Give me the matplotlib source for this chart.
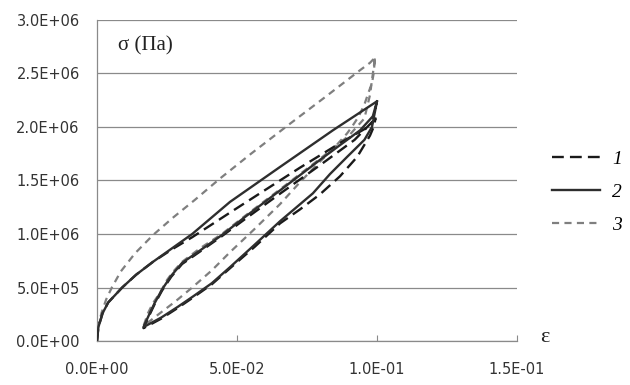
import matplotlib
matplotlib.use("Agg")
import matplotlib.pyplot as plt
from matplotlib.font_manager import FontProperties

# strain / stress readings for each branch of the three loops
# 1 - black long dashes
load1_eps = [0, 0.0005, 0.002, 0.004, 0.009, 0.014, 0.02, 0.027, 0.034, 0.0475, 0.057, 0.0725, 0.0868, 0.0975, 0.0995]
load1_sig = [0, 1.3e5, 2.6e5, 3.6e5, 5.0e5, 6.2e5, 7.4e5, 8.6e5, 9.7e5, 1.2e6, 1.36e6, 1.62e6, 1.85e6, 2.01e6, 2.08e6]
unload1_eps = [0.0995, 0.0988, 0.0975, 0.0929, 0.0868, 0.0796, 0.0725, 0.0654, 0.0563, 0.0475, 0.041, 0.0345, 0.0289, 0.023, 0.0166]
unload1_sig = [2.08e6, 2.0e6, 1.92e6, 1.72e6, 1.54e6, 1.37e6, 1.23e6, 1.1e6, 8.8e5, 6.8e5, 5.3e5, 4.1e5, 3.1e5, 2.1e5, 1.2e5]
reload1_eps = [0.0166, 0.0185, 0.0205, 0.0232, 0.0265, 0.0304, 0.037, 0.0446, 0.0529, 0.065, 0.080, 0.092, 0.0995]
reload1_sig = [1.2e5, 2.3e5, 3.4e5, 4.7e5, 6.0e5, 7.2e5, 8.4e5, 9.8e5, 1.14e6, 1.37e6, 1.65e6, 1.88e6, 2.08e6]

# 2 - solid
load2_eps = [0, 0.0005, 0.002, 0.004, 0.009, 0.014, 0.02, 0.027, 0.034, 0.0475, 0.065, 0.0843, 0.1]
load2_sig = [0, 1.3e5, 2.6e5, 3.6e5, 5.0e5, 6.2e5, 7.4e5, 8.7e5, 1.0e6, 1.3e6, 1.62e6, 1.97e6, 2.24e6]
unload2_eps = [0.1, 0.0982, 0.0955, 0.0893, 0.0832, 0.0771, 0.0654, 0.0563, 0.0475, 0.041, 0.0345, 0.0289, 0.023, 0.0166]
unload2_sig = [2.24e6, 2.0e6, 1.88e6, 1.72e6, 1.56e6, 1.38e6, 1.12e6, 9.0e5, 6.9e5, 5.4e5, 4.2e5, 3.2e5, 2.2e5, 1.3e5]
reload2_eps = [0.0166, 0.0185, 0.0205, 0.0232, 0.0265, 0.0304, 0.037, 0.0446, 0.0529, 0.065, 0.080, 0.094, 0.0985, 0.1]
reload2_sig = [1.3e5, 2.4e5, 3.5e5, 4.8e5, 6.1e5, 7.3e5, 8.5e5, 9.9e5, 1.16e6, 1.4e6, 1.7e6, 1.97e6, 2.1e6, 2.24e6]

# 3 - grey short dashes
load3_eps = [0, 0.0004, 0.0017, 0.0033, 0.0053, 0.0085, 0.0136, 0.02, 0.027, 0.035, 0.044, 0.055, 0.0689, 0.0815, 0.0939, 0.0975, 0.0993]
load3_sig = [0, 1.4e5, 2.7e5, 3.9e5, 5.0e5, 6.5e5, 8.2e5, 9.9e5, 1.15e6, 1.32e6, 1.52e6, 1.75e6, 2.03e6, 2.28e6, 2.53e6, 2.6e6, 2.65e6]
unload3_eps = [0.0993, 0.0988, 0.0982, 0.0968, 0.0955, 0.0935, 0.091, 0.0893, 0.0845, 0.0786, 0.072, 0.0654, 0.056, 0.0475, 0.041, 0.034, 0.028, 0.022, 0.0166]
unload3_sig = [2.65e6, 2.5e6, 2.41e6, 2.31e6, 2.21e6, 2.1e6, 2.0e6, 1.94e6, 1.8e6, 1.65e6, 1.47e6, 1.28e6, 1.04e6, 8.3e5, 6.6e5, 5.0e5, 3.7e5, 2.5e5, 1.4e5]
reload3_eps = [0.0166, 0.0182, 0.02, 0.0225, 0.025, 0.0271, 0.0304, 0.037, 0.0446, 0.0529, 0.065, 0.080, 0.090, 0.0955, 0.0975, 0.0993]
reload3_sig = [1.4e5, 2.6e5, 3.55e5, 4.5e5, 5.7e5, 6.45e5, 7.4e5, 8.7e5, 1.0e6, 1.17e6, 1.41e6, 1.71e6, 1.92e6, 2.08e6, 2.3e6, 2.65e6]

x_ticks = [0, 0.05, 0.10, 0.15]
x_labels = ["0.0E+00", "5.0E-02", "1.0E-01", "1.5E-01"]
y_ticks = [0, 5e5, 1e6, 1.5e6, 2e6, 2.5e6, 3e6]
y_labels = ["0.0E+00", "5.0E+05", "1.0E+06", "1.5E+06", "2.0E+06", "2.5E+06", "3.0E+06"]
legend_labels = ["1", "2", "3"]


def loop(*branches):
    xs, ys = [], []
    for bx, by in branches:
        xs += bx
        ys += by
    return xs, ys


fig = plt.figure(figsize=(6.3, 3.85), dpi=100)
ax = fig.add_axes([97 / 630, 1 - 341 / 385, 420 / 630, 321 / 385])

x3, y3 = loop((load3_eps, load3_sig), (unload3_eps, unload3_sig), (reload3_eps, reload3_sig))
x1, y1 = loop((load1_eps, load1_sig), (unload1_eps, unload1_sig), (reload1_eps, reload1_sig))
x2, y2 = loop((load2_eps, load2_sig), (unload2_eps, unload2_sig), (reload2_eps, reload2_sig))

l3, = ax.plot(x3, y3, color="#7f7f7f", lw=1.6, dashes=(3.2, 2.4), zorder=2)
l1, = ax.plot(x1, y1, color="#1a1a1a", lw=1.7, dashes=(5, 2.6), zorder=3)
l2, = ax.plot(x2, y2, color="#2e2e2e", lw=1.7, zorder=4)

ax.set_xlim(0, 0.15)
ax.set_ylim(0, 3e6)
ax.set_xticks(x_ticks)
ax.set_xticklabels(x_labels)
ax.set_yticks(y_ticks)
ax.set_yticklabels(y_labels)

ax.grid(axis="y", color="#8a8a8a", lw=0.9)
ax.set_axisbelow(True)
for s in ["top", "right"]:
    ax.spines[s].set_visible(False)
for s in ["left", "bottom"]:
    ax.spines[s].set_color("#8a8a8a")
    ax.spines[s].set_linewidth(0.9)

ax.tick_params(axis="y", length=0, pad=12.5, labelsize=10.5, labelcolor="#333333")
ax.tick_params(axis="x", direction="in", length=4, color="#8a8a8a", pad=15,
               labelsize=10.5, labelcolor="#333333")
for t in ax.get_xticklabels() + ax.get_yticklabels():
    t.set_family("DejaVu Sans")

ax.text(0.05, 0.919, "σ (Πa)", transform=ax.transAxes, family="Liberation Serif",
        fontsize=15, va="center", ha="left", color="#222222")
ax.text(1.055, 0.01, "ε", transform=ax.transAxes, family="Liberation Serif",
        fontsize=16, va="center", ha="left", color="#222222")

fig.legend([l1, l2, l3], legend_labels, loc="upper left", bbox_to_anchor=(0.86, 0.635),
           frameon=False, prop=FontProperties(family="Liberation Serif", style="italic", size=14),
           handlelength=2.5, labelspacing=0.8, borderpad=0, handletextpad=0.6)

fig.savefig("out.png", dpi=100)
